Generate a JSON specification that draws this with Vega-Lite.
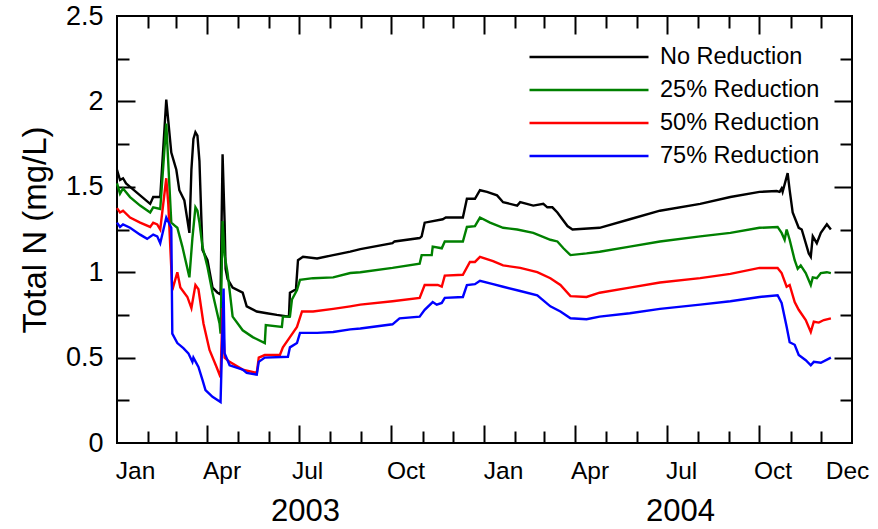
{
  "$schema": "https://vega.github.io/schema/vega-lite/v6.json",
  "width": 735,
  "height": 427,
  "autosize": "none",
  "padding": {"left": 117, "top": 16, "right": 26, "bottom": 86},
  "background": "white",
  "config": {
    "font": "Liberation Sans",
    "view": {"stroke": "black", "strokeWidth": 2},
    "axis": {
      "grid": false,
      "domain": false,
      "tickColor": "black",
      "tickWidth": 2,
      "labelColor": "black",
      "titleColor": "black",
      "labelFlush": false,
      "labelOverlap": false
    }
  },
  "data": {
    "values": [
      {"date": "2003-01-01", "series": "No Reduction", "value": 1.60},
      {"date": "2003-01-04", "series": "No Reduction", "value": 1.54},
      {"date": "2003-01-07", "series": "No Reduction", "value": 1.55},
      {"date": "2003-01-10", "series": "No Reduction", "value": 1.52},
      {"date": "2003-01-14", "series": "No Reduction", "value": 1.50},
      {"date": "2003-01-24", "series": "No Reduction", "value": 1.45},
      {"date": "2003-02-03", "series": "No Reduction", "value": 1.40},
      {"date": "2003-02-06", "series": "No Reduction", "value": 1.44},
      {"date": "2003-02-13", "series": "No Reduction", "value": 1.44},
      {"date": "2003-02-19", "series": "No Reduction", "value": 2.01},
      {"date": "2003-02-24", "series": "No Reduction", "value": 1.70},
      {"date": "2003-02-27", "series": "No Reduction", "value": 1.64},
      {"date": "2003-03-01", "series": "No Reduction", "value": 1.60},
      {"date": "2003-03-04", "series": "No Reduction", "value": 1.48},
      {"date": "2003-03-09", "series": "No Reduction", "value": 1.42},
      {"date": "2003-03-14", "series": "No Reduction", "value": 1.23},
      {"date": "2003-03-16", "series": "No Reduction", "value": 1.60},
      {"date": "2003-03-18", "series": "No Reduction", "value": 1.78},
      {"date": "2003-03-20", "series": "No Reduction", "value": 1.82},
      {"date": "2003-03-22", "series": "No Reduction", "value": 1.80},
      {"date": "2003-03-24", "series": "No Reduction", "value": 1.65},
      {"date": "2003-03-26", "series": "No Reduction", "value": 1.30},
      {"date": "2003-03-27", "series": "No Reduction", "value": 1.13},
      {"date": "2003-04-01", "series": "No Reduction", "value": 1.07},
      {"date": "2003-04-06", "series": "No Reduction", "value": 0.91},
      {"date": "2003-04-11", "series": "No Reduction", "value": 0.88},
      {"date": "2003-04-14", "series": "No Reduction", "value": 0.87},
      {"date": "2003-04-16", "series": "No Reduction", "value": 1.69},
      {"date": "2003-04-18", "series": "No Reduction", "value": 1.30},
      {"date": "2003-04-19", "series": "No Reduction", "value": 1.02},
      {"date": "2003-04-21", "series": "No Reduction", "value": 0.96},
      {"date": "2003-04-26", "series": "No Reduction", "value": 0.91},
      {"date": "2003-05-06", "series": "No Reduction", "value": 0.88},
      {"date": "2003-05-10", "series": "No Reduction", "value": 0.80},
      {"date": "2003-05-20", "series": "No Reduction", "value": 0.77},
      {"date": "2003-05-30", "series": "No Reduction", "value": 0.76},
      {"date": "2003-06-09", "series": "No Reduction", "value": 0.75},
      {"date": "2003-06-21", "series": "No Reduction", "value": 0.74},
      {"date": "2003-06-22", "series": "No Reduction", "value": 0.88},
      {"date": "2003-06-28", "series": "No Reduction", "value": 0.90},
      {"date": "2003-06-30", "series": "No Reduction", "value": 1.07},
      {"date": "2003-07-05", "series": "No Reduction", "value": 1.09},
      {"date": "2003-07-19", "series": "No Reduction", "value": 1.08},
      {"date": "2003-08-04", "series": "No Reduction", "value": 1.10},
      {"date": "2003-08-21", "series": "No Reduction", "value": 1.12},
      {"date": "2003-08-31", "series": "No Reduction", "value": 1.135},
      {"date": "2003-10-02", "series": "No Reduction", "value": 1.17},
      {"date": "2003-10-04", "series": "No Reduction", "value": 1.18},
      {"date": "2003-10-29", "series": "No Reduction", "value": 1.20},
      {"date": "2003-10-31", "series": "No Reduction", "value": 1.21},
      {"date": "2003-11-03", "series": "No Reduction", "value": 1.29},
      {"date": "2003-11-21", "series": "No Reduction", "value": 1.31},
      {"date": "2003-11-24", "series": "No Reduction", "value": 1.32},
      {"date": "2003-12-11", "series": "No Reduction", "value": 1.32},
      {"date": "2003-12-15", "series": "No Reduction", "value": 1.43},
      {"date": "2003-12-23", "series": "No Reduction", "value": 1.43},
      {"date": "2003-12-28", "series": "No Reduction", "value": 1.48},
      {"date": "2004-01-04", "series": "No Reduction", "value": 1.47},
      {"date": "2004-01-14", "series": "No Reduction", "value": 1.45},
      {"date": "2004-01-20", "series": "No Reduction", "value": 1.41},
      {"date": "2004-02-03", "series": "No Reduction", "value": 1.39},
      {"date": "2004-02-06", "series": "No Reduction", "value": 1.41},
      {"date": "2004-02-19", "series": "No Reduction", "value": 1.39},
      {"date": "2004-02-29", "series": "No Reduction", "value": 1.40},
      {"date": "2004-03-04", "series": "No Reduction", "value": 1.38},
      {"date": "2004-03-09", "series": "No Reduction", "value": 1.38},
      {"date": "2004-03-14", "series": "No Reduction", "value": 1.35},
      {"date": "2004-03-24", "series": "No Reduction", "value": 1.27},
      {"date": "2004-03-29", "series": "No Reduction", "value": 1.25},
      {"date": "2004-04-25", "series": "No Reduction", "value": 1.26},
      {"date": "2004-05-25", "series": "No Reduction", "value": 1.31},
      {"date": "2004-06-24", "series": "No Reduction", "value": 1.36},
      {"date": "2004-08-03", "series": "No Reduction", "value": 1.40},
      {"date": "2004-09-02", "series": "No Reduction", "value": 1.44},
      {"date": "2004-10-01", "series": "No Reduction", "value": 1.47},
      {"date": "2004-10-18", "series": "No Reduction", "value": 1.475},
      {"date": "2004-10-21", "series": "No Reduction", "value": 1.47},
      {"date": "2004-10-23", "series": "No Reduction", "value": 1.49},
      {"date": "2004-10-24", "series": "No Reduction", "value": 1.47},
      {"date": "2004-10-29", "series": "No Reduction", "value": 1.58},
      {"date": "2004-10-31", "series": "No Reduction", "value": 1.48},
      {"date": "2004-11-03", "series": "No Reduction", "value": 1.35},
      {"date": "2004-11-09", "series": "No Reduction", "value": 1.26},
      {"date": "2004-11-12", "series": "No Reduction", "value": 1.25},
      {"date": "2004-11-19", "series": "No Reduction", "value": 1.11},
      {"date": "2004-11-21", "series": "No Reduction", "value": 1.09},
      {"date": "2004-11-23", "series": "No Reduction", "value": 1.21},
      {"date": "2004-11-27", "series": "No Reduction", "value": 1.17},
      {"date": "2004-12-01", "series": "No Reduction", "value": 1.23},
      {"date": "2004-12-07", "series": "No Reduction", "value": 1.28},
      {"date": "2004-12-11", "series": "No Reduction", "value": 1.25},

      {"date": "2003-01-01", "series": "25% Reduction", "value": 1.52},
      {"date": "2003-01-04", "series": "25% Reduction", "value": 1.46},
      {"date": "2003-01-07", "series": "25% Reduction", "value": 1.49},
      {"date": "2003-01-14", "series": "25% Reduction", "value": 1.44},
      {"date": "2003-01-24", "series": "25% Reduction", "value": 1.39},
      {"date": "2003-02-03", "series": "25% Reduction", "value": 1.35},
      {"date": "2003-02-06", "series": "25% Reduction", "value": 1.38},
      {"date": "2003-02-13", "series": "25% Reduction", "value": 1.37},
      {"date": "2003-02-19", "series": "25% Reduction", "value": 1.87},
      {"date": "2003-02-24", "series": "25% Reduction", "value": 1.29},
      {"date": "2003-02-28", "series": "25% Reduction", "value": 1.27},
      {"date": "2003-03-02", "series": "25% Reduction", "value": 1.26},
      {"date": "2003-03-07", "series": "25% Reduction", "value": 1.15},
      {"date": "2003-03-14", "series": "25% Reduction", "value": 0.97},
      {"date": "2003-03-17", "series": "25% Reduction", "value": 1.20},
      {"date": "2003-03-20", "series": "25% Reduction", "value": 1.38},
      {"date": "2003-03-22", "series": "25% Reduction", "value": 1.36},
      {"date": "2003-03-24", "series": "25% Reduction", "value": 1.29},
      {"date": "2003-03-27", "series": "25% Reduction", "value": 1.15},
      {"date": "2003-04-01", "series": "25% Reduction", "value": 1.03},
      {"date": "2003-04-06", "series": "25% Reduction", "value": 0.88},
      {"date": "2003-04-13", "series": "25% Reduction", "value": 0.70},
      {"date": "2003-04-14", "series": "25% Reduction", "value": 0.64},
      {"date": "2003-04-16", "series": "25% Reduction", "value": 1.30},
      {"date": "2003-04-18", "series": "25% Reduction", "value": 1.10},
      {"date": "2003-04-21", "series": "25% Reduction", "value": 0.995},
      {"date": "2003-04-26", "series": "25% Reduction", "value": 0.74},
      {"date": "2003-05-06", "series": "25% Reduction", "value": 0.66},
      {"date": "2003-05-16", "series": "25% Reduction", "value": 0.62},
      {"date": "2003-05-28", "series": "25% Reduction", "value": 0.585},
      {"date": "2003-05-29", "series": "25% Reduction", "value": 0.69},
      {"date": "2003-06-14", "series": "25% Reduction", "value": 0.68},
      {"date": "2003-06-15", "series": "25% Reduction", "value": 0.74},
      {"date": "2003-06-22", "series": "25% Reduction", "value": 0.74},
      {"date": "2003-06-24", "series": "25% Reduction", "value": 0.84},
      {"date": "2003-06-29", "series": "25% Reduction", "value": 0.895},
      {"date": "2003-07-02", "series": "25% Reduction", "value": 0.955},
      {"date": "2003-07-15", "series": "25% Reduction", "value": 0.965},
      {"date": "2003-08-04", "series": "25% Reduction", "value": 0.97},
      {"date": "2003-08-21", "series": "25% Reduction", "value": 0.995},
      {"date": "2003-08-31", "series": "25% Reduction", "value": 1.00},
      {"date": "2003-10-02", "series": "25% Reduction", "value": 1.025},
      {"date": "2003-10-29", "series": "25% Reduction", "value": 1.05},
      {"date": "2003-10-31", "series": "25% Reduction", "value": 1.10},
      {"date": "2003-11-10", "series": "25% Reduction", "value": 1.10},
      {"date": "2003-11-11", "series": "25% Reduction", "value": 1.15},
      {"date": "2003-11-20", "series": "25% Reduction", "value": 1.14},
      {"date": "2003-11-23", "series": "25% Reduction", "value": 1.18},
      {"date": "2003-12-11", "series": "25% Reduction", "value": 1.18},
      {"date": "2003-12-15", "series": "25% Reduction", "value": 1.265},
      {"date": "2003-12-23", "series": "25% Reduction", "value": 1.27},
      {"date": "2003-12-28", "series": "25% Reduction", "value": 1.32},
      {"date": "2004-01-07", "series": "25% Reduction", "value": 1.29},
      {"date": "2004-01-20", "series": "25% Reduction", "value": 1.26},
      {"date": "2004-02-03", "series": "25% Reduction", "value": 1.25},
      {"date": "2004-02-19", "series": "25% Reduction", "value": 1.23},
      {"date": "2004-03-07", "series": "25% Reduction", "value": 1.19},
      {"date": "2004-03-14", "series": "25% Reduction", "value": 1.18},
      {"date": "2004-03-20", "series": "25% Reduction", "value": 1.14},
      {"date": "2004-03-27", "series": "25% Reduction", "value": 1.10},
      {"date": "2004-04-12", "series": "25% Reduction", "value": 1.11},
      {"date": "2004-04-25", "series": "25% Reduction", "value": 1.12},
      {"date": "2004-05-25", "series": "25% Reduction", "value": 1.15},
      {"date": "2004-06-24", "series": "25% Reduction", "value": 1.18},
      {"date": "2004-08-03", "series": "25% Reduction", "value": 1.21},
      {"date": "2004-09-02", "series": "25% Reduction", "value": 1.23},
      {"date": "2004-10-01", "series": "25% Reduction", "value": 1.26},
      {"date": "2004-10-19", "series": "25% Reduction", "value": 1.265},
      {"date": "2004-10-23", "series": "25% Reduction", "value": 1.23},
      {"date": "2004-10-26", "series": "25% Reduction", "value": 1.19},
      {"date": "2004-10-28", "series": "25% Reduction", "value": 1.25},
      {"date": "2004-10-31", "series": "25% Reduction", "value": 1.19},
      {"date": "2004-11-05", "series": "25% Reduction", "value": 1.07},
      {"date": "2004-11-08", "series": "25% Reduction", "value": 1.02},
      {"date": "2004-11-11", "series": "25% Reduction", "value": 1.04},
      {"date": "2004-11-16", "series": "25% Reduction", "value": 0.995},
      {"date": "2004-11-21", "series": "25% Reduction", "value": 0.925},
      {"date": "2004-11-23", "series": "25% Reduction", "value": 0.97},
      {"date": "2004-11-27", "series": "25% Reduction", "value": 0.965},
      {"date": "2004-12-01", "series": "25% Reduction", "value": 0.995},
      {"date": "2004-12-07", "series": "25% Reduction", "value": 1.00},
      {"date": "2004-12-11", "series": "25% Reduction", "value": 0.995},

      {"date": "2003-01-01", "series": "50% Reduction", "value": 1.375},
      {"date": "2003-01-04", "series": "50% Reduction", "value": 1.35},
      {"date": "2003-01-07", "series": "50% Reduction", "value": 1.36},
      {"date": "2003-01-14", "series": "50% Reduction", "value": 1.32},
      {"date": "2003-01-24", "series": "50% Reduction", "value": 1.29},
      {"date": "2003-02-03", "series": "50% Reduction", "value": 1.265},
      {"date": "2003-02-06", "series": "50% Reduction", "value": 1.29},
      {"date": "2003-02-10", "series": "50% Reduction", "value": 1.28},
      {"date": "2003-02-13", "series": "50% Reduction", "value": 1.25},
      {"date": "2003-02-19", "series": "50% Reduction", "value": 1.55},
      {"date": "2003-02-21", "series": "50% Reduction", "value": 1.40},
      {"date": "2003-02-25", "series": "50% Reduction", "value": 0.895},
      {"date": "2003-03-02", "series": "50% Reduction", "value": 1.00},
      {"date": "2003-03-05", "series": "50% Reduction", "value": 0.91},
      {"date": "2003-03-12", "series": "50% Reduction", "value": 0.855},
      {"date": "2003-03-16", "series": "50% Reduction", "value": 0.79},
      {"date": "2003-03-20", "series": "50% Reduction", "value": 0.925},
      {"date": "2003-03-23", "series": "50% Reduction", "value": 0.90},
      {"date": "2003-03-28", "series": "50% Reduction", "value": 0.70},
      {"date": "2003-04-03", "series": "50% Reduction", "value": 0.545},
      {"date": "2003-04-10", "series": "50% Reduction", "value": 0.445},
      {"date": "2003-04-14", "series": "50% Reduction", "value": 0.385},
      {"date": "2003-04-16", "series": "50% Reduction", "value": 0.79},
      {"date": "2003-04-18", "series": "50% Reduction", "value": 0.50},
      {"date": "2003-04-23", "series": "50% Reduction", "value": 0.475},
      {"date": "2003-05-06", "series": "50% Reduction", "value": 0.43},
      {"date": "2003-05-20", "series": "50% Reduction", "value": 0.41},
      {"date": "2003-05-22", "series": "50% Reduction", "value": 0.50},
      {"date": "2003-05-28", "series": "50% Reduction", "value": 0.515},
      {"date": "2003-06-12", "series": "50% Reduction", "value": 0.515},
      {"date": "2003-06-15", "series": "50% Reduction", "value": 0.56},
      {"date": "2003-06-22", "series": "50% Reduction", "value": 0.62},
      {"date": "2003-06-29", "series": "50% Reduction", "value": 0.68},
      {"date": "2003-07-04", "series": "50% Reduction", "value": 0.77},
      {"date": "2003-07-15", "series": "50% Reduction", "value": 0.77},
      {"date": "2003-08-04", "series": "50% Reduction", "value": 0.785},
      {"date": "2003-08-21", "series": "50% Reduction", "value": 0.80},
      {"date": "2003-08-31", "series": "50% Reduction", "value": 0.81},
      {"date": "2003-10-02", "series": "50% Reduction", "value": 0.83},
      {"date": "2003-10-29", "series": "50% Reduction", "value": 0.85},
      {"date": "2003-11-03", "series": "50% Reduction", "value": 0.925},
      {"date": "2003-11-16", "series": "50% Reduction", "value": 0.925},
      {"date": "2003-11-20", "series": "50% Reduction", "value": 0.915},
      {"date": "2003-11-23", "series": "50% Reduction", "value": 0.98},
      {"date": "2003-12-11", "series": "50% Reduction", "value": 0.985},
      {"date": "2003-12-18", "series": "50% Reduction", "value": 1.06},
      {"date": "2003-12-23", "series": "50% Reduction", "value": 1.06},
      {"date": "2003-12-28", "series": "50% Reduction", "value": 1.09},
      {"date": "2004-01-10", "series": "50% Reduction", "value": 1.065},
      {"date": "2004-01-20", "series": "50% Reduction", "value": 1.04},
      {"date": "2004-02-06", "series": "50% Reduction", "value": 1.025},
      {"date": "2004-02-23", "series": "50% Reduction", "value": 1.00},
      {"date": "2004-03-07", "series": "50% Reduction", "value": 0.965},
      {"date": "2004-03-17", "series": "50% Reduction", "value": 0.925},
      {"date": "2004-03-27", "series": "50% Reduction", "value": 0.86},
      {"date": "2004-04-12", "series": "50% Reduction", "value": 0.855},
      {"date": "2004-04-25", "series": "50% Reduction", "value": 0.88},
      {"date": "2004-05-25", "series": "50% Reduction", "value": 0.91},
      {"date": "2004-06-24", "series": "50% Reduction", "value": 0.94},
      {"date": "2004-08-03", "series": "50% Reduction", "value": 0.965},
      {"date": "2004-09-02", "series": "50% Reduction", "value": 0.99},
      {"date": "2004-10-01", "series": "50% Reduction", "value": 1.025},
      {"date": "2004-10-19", "series": "50% Reduction", "value": 1.025},
      {"date": "2004-10-23", "series": "50% Reduction", "value": 0.995},
      {"date": "2004-10-28", "series": "50% Reduction", "value": 0.915},
      {"date": "2004-10-31", "series": "50% Reduction", "value": 0.925},
      {"date": "2004-11-05", "series": "50% Reduction", "value": 0.825},
      {"date": "2004-11-09", "series": "50% Reduction", "value": 0.78},
      {"date": "2004-11-16", "series": "50% Reduction", "value": 0.72},
      {"date": "2004-11-21", "series": "50% Reduction", "value": 0.65},
      {"date": "2004-11-24", "series": "50% Reduction", "value": 0.71},
      {"date": "2004-11-29", "series": "50% Reduction", "value": 0.705},
      {"date": "2004-12-04", "series": "50% Reduction", "value": 0.72},
      {"date": "2004-12-11", "series": "50% Reduction", "value": 0.73},

      {"date": "2003-01-01", "series": "75% Reduction", "value": 1.29},
      {"date": "2003-01-04", "series": "75% Reduction", "value": 1.265},
      {"date": "2003-01-07", "series": "75% Reduction", "value": 1.28},
      {"date": "2003-01-14", "series": "75% Reduction", "value": 1.26},
      {"date": "2003-01-24", "series": "75% Reduction", "value": 1.22},
      {"date": "2003-01-31", "series": "75% Reduction", "value": 1.195},
      {"date": "2003-02-06", "series": "75% Reduction", "value": 1.22},
      {"date": "2003-02-10", "series": "75% Reduction", "value": 1.21},
      {"date": "2003-02-13", "series": "75% Reduction", "value": 1.17},
      {"date": "2003-02-19", "series": "75% Reduction", "value": 1.32},
      {"date": "2003-02-24", "series": "75% Reduction", "value": 1.26},
      {"date": "2003-02-25", "series": "75% Reduction", "value": 0.64},
      {"date": "2003-03-02", "series": "75% Reduction", "value": 0.585},
      {"date": "2003-03-08", "series": "75% Reduction", "value": 0.555},
      {"date": "2003-03-13", "series": "75% Reduction", "value": 0.525},
      {"date": "2003-03-17", "series": "75% Reduction", "value": 0.475},
      {"date": "2003-03-18", "series": "75% Reduction", "value": 0.50},
      {"date": "2003-03-23", "series": "75% Reduction", "value": 0.445},
      {"date": "2003-03-27", "series": "75% Reduction", "value": 0.37},
      {"date": "2003-03-30", "series": "75% Reduction", "value": 0.31},
      {"date": "2003-04-06", "series": "75% Reduction", "value": 0.27},
      {"date": "2003-04-14", "series": "75% Reduction", "value": 0.24},
      {"date": "2003-04-17", "series": "75% Reduction", "value": 0.905},
      {"date": "2003-04-18", "series": "75% Reduction", "value": 0.525},
      {"date": "2003-04-23", "series": "75% Reduction", "value": 0.455},
      {"date": "2003-05-06", "series": "75% Reduction", "value": 0.43},
      {"date": "2003-05-10", "series": "75% Reduction", "value": 0.41},
      {"date": "2003-05-20", "series": "75% Reduction", "value": 0.40},
      {"date": "2003-05-22", "series": "75% Reduction", "value": 0.475},
      {"date": "2003-05-28", "series": "75% Reduction", "value": 0.50},
      {"date": "2003-06-20", "series": "75% Reduction", "value": 0.505},
      {"date": "2003-06-22", "series": "75% Reduction", "value": 0.56},
      {"date": "2003-06-29", "series": "75% Reduction", "value": 0.585},
      {"date": "2003-07-02", "series": "75% Reduction", "value": 0.645},
      {"date": "2003-07-19", "series": "75% Reduction", "value": 0.645},
      {"date": "2003-08-04", "series": "75% Reduction", "value": 0.65},
      {"date": "2003-08-21", "series": "75% Reduction", "value": 0.665},
      {"date": "2003-08-31", "series": "75% Reduction", "value": 0.67},
      {"date": "2003-10-02", "series": "75% Reduction", "value": 0.695},
      {"date": "2003-10-09", "series": "75% Reduction", "value": 0.73},
      {"date": "2003-10-29", "series": "75% Reduction", "value": 0.74},
      {"date": "2003-11-03", "series": "75% Reduction", "value": 0.78},
      {"date": "2003-11-11", "series": "75% Reduction", "value": 0.825},
      {"date": "2003-11-15", "series": "75% Reduction", "value": 0.81},
      {"date": "2003-11-20", "series": "75% Reduction", "value": 0.82},
      {"date": "2003-11-23", "series": "75% Reduction", "value": 0.85},
      {"date": "2003-12-11", "series": "75% Reduction", "value": 0.855},
      {"date": "2003-12-15", "series": "75% Reduction", "value": 0.925},
      {"date": "2003-12-23", "series": "75% Reduction", "value": 0.93},
      {"date": "2003-12-28", "series": "75% Reduction", "value": 0.95},
      {"date": "2004-01-10", "series": "75% Reduction", "value": 0.93},
      {"date": "2004-01-20", "series": "75% Reduction", "value": 0.915},
      {"date": "2004-02-06", "series": "75% Reduction", "value": 0.89},
      {"date": "2004-02-23", "series": "75% Reduction", "value": 0.865},
      {"date": "2004-03-07", "series": "75% Reduction", "value": 0.80},
      {"date": "2004-03-17", "series": "75% Reduction", "value": 0.77},
      {"date": "2004-03-27", "series": "75% Reduction", "value": 0.73},
      {"date": "2004-04-12", "series": "75% Reduction", "value": 0.725},
      {"date": "2004-04-25", "series": "75% Reduction", "value": 0.74},
      {"date": "2004-05-25", "series": "75% Reduction", "value": 0.76},
      {"date": "2004-06-24", "series": "75% Reduction", "value": 0.785},
      {"date": "2004-08-03", "series": "75% Reduction", "value": 0.81},
      {"date": "2004-09-02", "series": "75% Reduction", "value": 0.83},
      {"date": "2004-10-01", "series": "75% Reduction", "value": 0.855},
      {"date": "2004-10-19", "series": "75% Reduction", "value": 0.865},
      {"date": "2004-10-23", "series": "75% Reduction", "value": 0.82},
      {"date": "2004-10-28", "series": "75% Reduction", "value": 0.68},
      {"date": "2004-10-31", "series": "75% Reduction", "value": 0.59},
      {"date": "2004-11-05", "series": "75% Reduction", "value": 0.575},
      {"date": "2004-11-09", "series": "75% Reduction", "value": 0.515},
      {"date": "2004-11-16", "series": "75% Reduction", "value": 0.485},
      {"date": "2004-11-21", "series": "75% Reduction", "value": 0.455},
      {"date": "2004-11-24", "series": "75% Reduction", "value": 0.475},
      {"date": "2004-12-01", "series": "75% Reduction", "value": 0.47},
      {"date": "2004-12-11", "series": "75% Reduction", "value": 0.50}
    ]
  },
  "resolve": {"axis": {"x": "independent", "y": "independent"}},
  "layer": [
    {
      "mark": {"type": "line", "strokeWidth": 2.4, "interpolate": "linear"},
      "encoding": {
        "x": {
          "field": "date", "type": "temporal",
          "scale": {"domain": [{"year": 2003, "month": 1, "date": 1}, {"year": 2005, "month": 1, "date": 1}], "nice": false},
          "axis": {
            "orient": "bottom", "title": null, "labels": false,
            "values": [
              {"year": 2003, "month": 2, "date": 1}, {"year": 2003, "month": 3, "date": 1},
              {"year": 2003, "month": 4, "date": 1}, {"year": 2003, "month": 5, "date": 1},
              {"year": 2003, "month": 6, "date": 1}, {"year": 2003, "month": 7, "date": 1},
              {"year": 2003, "month": 8, "date": 1}, {"year": 2003, "month": 9, "date": 1},
              {"year": 2003, "month": 10, "date": 1}, {"year": 2003, "month": 11, "date": 1},
              {"year": 2003, "month": 12, "date": 1}, {"year": 2004, "month": 1, "date": 1},
              {"year": 2004, "month": 2, "date": 1}, {"year": 2004, "month": 3, "date": 1},
              {"year": 2004, "month": 4, "date": 1}, {"year": 2004, "month": 5, "date": 1},
              {"year": 2004, "month": 6, "date": 1}, {"year": 2004, "month": 7, "date": 1},
              {"year": 2004, "month": 8, "date": 1}, {"year": 2004, "month": 9, "date": 1},
              {"year": 2004, "month": 10, "date": 1}, {"year": 2004, "month": 11, "date": 1},
              {"year": 2004, "month": 12, "date": 1}
            ],
            "tickSize": {"condition": {"test": "month(datum.value) % 3 === 0", "value": -18}, "value": -12}
          }
        },
        "y": {
          "field": "value", "type": "quantitative",
          "scale": {"domain": [0, 2.5], "nice": false, "zero": true},
          "axis": {
            "orient": "left", "title": null, "labels": false,
            "values": [0.25, 0.5, 0.75, 1, 1.25, 1.5, 1.75, 2, 2.25],
            "tickSize": {"condition": {"test": "datum.value % 0.5 === 0", "value": -18}, "value": -12}
          }
        },
        "color": {
          "field": "series", "type": "nominal",
          "scale": {
            "domain": ["No Reduction", "25% Reduction", "50% Reduction", "75% Reduction"],
            "range": ["#000000", "#008000", "#ff0000", "#0000ff"]
          },
          "legend": {
            "title": null, "orient": "none", "legendX": 411, "legendY": 28,
            "symbolType": "stroke", "symbolSize": 14161, "symbolStrokeWidth": 2.4,
            "clipHeight": 26, "rowPadding": 7, "padding": 0,
            "labelFontSize": 23.5, "labelOffset": 10, "labelColor": "black", "labelLimit": 300
          }
        }
      }
    },
    {
      "mark": {"type": "point", "opacity": 0},
      "encoding": {
        "x": {
          "field": "date", "type": "temporal",
          "axis": {
            "orient": "bottom", "title": null, "ticks": false, "format": "%b",
            "labelFontSize": 24.5, "labelPadding": 16,
            "values": [
              {"year": 2003, "month": 1, "date": 19}, {"year": 2003, "month": 4, "date": 15},
              {"year": 2003, "month": 7, "date": 9}, {"year": 2003, "month": 10, "date": 15},
              {"year": 2004, "month": 1, "date": 20}, {"year": 2004, "month": 4, "date": 15},
              {"year": 2004, "month": 7, "date": 15}, {"year": 2004, "month": 10, "date": 14},
              {"year": 2004, "month": 12, "date": 27}
            ]
          }
        },
        "y": {
          "field": "value", "type": "quantitative",
          "axis": {
            "orient": "left", "title": "Total N (mg/L)", "ticks": false, "format": "~g",
            "values": [0, 0.5, 1, 1.5, 2, 2.5],
            "labelFontSize": 27, "labelPadding": 14,
            "titleFontSize": 33, "titleFontWeight": "normal", "titlePadding": 13
          }
        }
      }
    },
    {
      "mark": {"type": "point", "opacity": 0},
      "encoding": {
        "x": {
          "field": "date", "type": "temporal",
          "axis": {
            "orient": "bottom", "title": null, "ticks": false, "format": "%Y",
            "labelFontSize": 31, "labelPadding": 53,
            "values": [{"year": 2003, "month": 7, "date": 7}, {"year": 2004, "month": 7, "date": 14}]
          }
        },
        "y": {
          "field": "value", "type": "quantitative",
          "axis": {
            "orient": "right", "title": null, "labels": false,
            "values": [0.25, 0.5, 0.75, 1, 1.25, 1.5, 1.75, 2, 2.25],
            "tickSize": {"condition": {"test": "datum.value % 0.5 === 0", "value": -18}, "value": -12}
          }
        }
      }
    },
    {
      "mark": {"type": "point", "opacity": 0},
      "encoding": {
        "x": {
          "field": "date", "type": "temporal",
          "axis": {
            "orient": "top", "title": null, "labels": false,
            "values": [
              {"year": 2003, "month": 2, "date": 1}, {"year": 2003, "month": 3, "date": 1},
              {"year": 2003, "month": 4, "date": 1}, {"year": 2003, "month": 5, "date": 1},
              {"year": 2003, "month": 6, "date": 1}, {"year": 2003, "month": 7, "date": 1},
              {"year": 2003, "month": 8, "date": 1}, {"year": 2003, "month": 9, "date": 1},
              {"year": 2003, "month": 10, "date": 1}, {"year": 2003, "month": 11, "date": 1},
              {"year": 2003, "month": 12, "date": 1}, {"year": 2004, "month": 1, "date": 1},
              {"year": 2004, "month": 2, "date": 1}, {"year": 2004, "month": 3, "date": 1},
              {"year": 2004, "month": 4, "date": 1}, {"year": 2004, "month": 5, "date": 1},
              {"year": 2004, "month": 6, "date": 1}, {"year": 2004, "month": 7, "date": 1},
              {"year": 2004, "month": 8, "date": 1}, {"year": 2004, "month": 9, "date": 1},
              {"year": 2004, "month": 10, "date": 1}, {"year": 2004, "month": 11, "date": 1},
              {"year": 2004, "month": 12, "date": 1}
            ],
            "tickSize": {"condition": {"test": "month(datum.value) % 3 === 0", "value": -18}, "value": -12}
          }
        }
      }
    }
  ]
}
